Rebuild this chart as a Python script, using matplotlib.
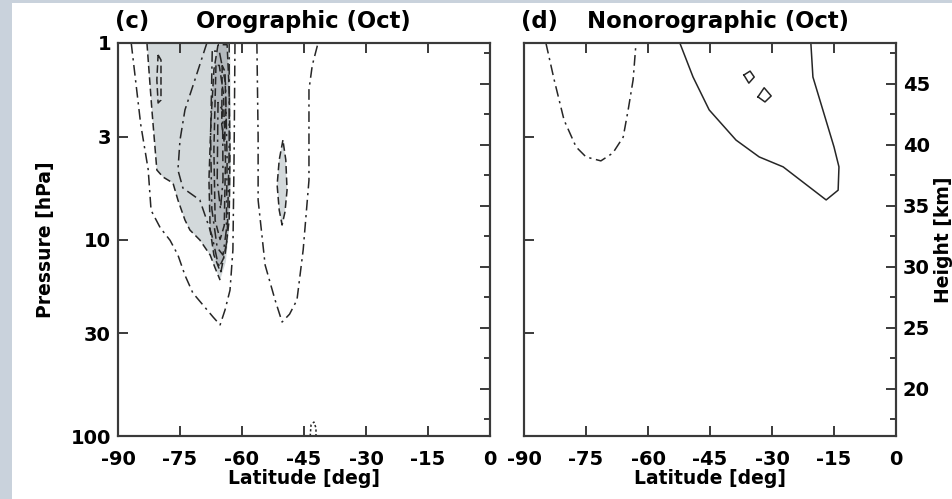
"""Orographic / nonorographic GW drag cross sections (Oct), panels (c) and (d)."""
import numpy as np
import matplotlib
matplotlib.use('Agg')
import matplotlib.pyplot as plt
from matplotlib.patches import Rectangle
from matplotlib.ticker import FixedLocator, NullLocator, FixedFormatter

plt.rcParams['font.family'] = ['DejaVu Sans']
plt.rcParams['font.weight'] = 'bold'
plt.rcParams['axes.unicode_minus'] = False

# axes
lat_ticks = [-90, -75, -60, -45, -30, -15, 0]
lat_labels = ['-90', '-75', '-60', '-45', '-30', '-15', '0']
p_ticks = [1, 3, 10, 30, 100]
p_labels = ['1', '3', '10', '30', '100']
km_ticks = [20, 25, 30, 35, 40, 45]
km_minor = [17.5, 22.5, 27.5, 32.5, 37.5, 42.5, 47.5]
scale_height = 7.0  # km, z = H ln(1000/p)

# ---- panel (c) orographic: contour lines (lat, hPa)
oro_outer_lat = [-86.8, -84.5, -82.7, -82.0, -79.8, -77.4, -75.5, -73.8, -71.9, -67.0, -65.3,
                 -64.1, -62.9, -62.2, -61.9, -61.7]
oro_outer_p = [1.0, 2.6, 4.4, 7.1, 8.7, 10.1, 12.0, 15.2, 18.7, 24.8, 27.2,
               22.8, 18.1, 11.3, 3.5, 1.0]

oro_shade_lat = [-83.0, -81.8, -80.6, -79.1, -76.7, -75.5, -73.8, -72.6, -70.2, -67.7, -66.5,
                 -65.3, -63.9, -63.1, -62.7, -62.7, -62.9]
oro_shade_p = [1.0, 2.19, 4.43, 4.81, 5.16, 6.3, 7.96, 8.95, 10.06, 12.0, 13.97,
               16.1, 13.0, 8.95, 4.98, 1.95, 1.0]

oro_inner_lat = [-68.5, -71.4, -73.8, -75.0, -75.5, -74.3, -70.2, -67.3, -66.0, -65.1, -63.6, -63.1, -63.1]
oro_inner_p = [1.0, 1.54, 2.19, 3.12, 4.43, 5.47, 6.3, 9.49, 12.7, 14.6, 10.06, 3.5, 1.0]

oro_small_lat = [-80.3, -79.6, -79.6, -80.3, -80.6, -80.3]
oro_small_p = [1.15, 1.22, 1.95, 2.02, 1.54, 1.15]

oro_core_lat = [-65.8, -66.8, -67.5, -68.0, -67.7, -66.8, -65.6, -64.1, -63.1, -62.9, -63.1, -63.6, -65.8]
oro_core_p = [1.02, 1.37, 2.47, 4.98, 8.95, 12.0, 13.97, 12.0, 7.96, 3.5, 1.73, 1.02, 1.02]

oro_core1_lat = [-67.2, -67.6, -67.3, -66.0, -64.6, -63.8, -63.6, -64.0, -65.5, -67.2]
oro_core1_p = [1.1, 3.0, 7.0, 11.0, 12.0, 9.0, 4.0, 1.6, 1.1, 1.1]
oro_core2_lat = [-66.3, -66.8, -66.5, -65.3, -64.3, -64.0, -64.5, -65.5, -66.3]
oro_core2_p = [1.3, 3.5, 8.0, 10.0, 8.5, 4.0, 1.8, 1.3, 1.3]
oro_core3_lat = [-65.8, -66.0, -65.2, -64.6, -64.7, -65.8]
oro_core3_p = [2.0, 5.0, 7.0, 5.0, 2.2, 2.0]
oro_core4_lat = [-64.8, -64.9, -64.3, -63.9, -64.1, -64.8]
oro_core4_p = [1.3, 2.6, 3.2, 2.4, 1.4, 1.3]

oro_mid_lat = [-56.4, -56.1, -56.1, -54.4, -52.0, -50.3, -48.5, -46.7, -45.2, -43.8, -43.8, -43.0, -41.6]
oro_mid_p = [1.0, 3.0, 6.3, 13.5, 20.3, 26.3, 24.0, 20.3, 11.3, 5.0, 1.73, 1.3, 1.0]

oro_blob_lat = [-50.1, -51.0, -51.5, -51.0, -50.3, -49.6, -49.1, -49.4, -50.1]
oro_blob_p = [3.12, 3.94, 5.28, 7.08, 8.44, 7.24, 5.6, 3.94, 3.12]

oro_tiny_lat = [-43.5, -43.3, -42.6, -42.1, -42.1]
oro_tiny_p = [100.0, 87.9, 84.9, 91.1, 100.0]

# ---- panel (d) nonorographic
non_u_lat = [-84.7, -82.7, -80.3, -77.4, -75.0, -71.4, -68.5, -66.0, -64.8, -63.6, -62.9]
non_u_p = [1.0, 1.54, 2.47, 3.38, 3.80, 3.98, 3.63, 3.01, 2.19, 1.54, 1.0]

non_solid_lat = [-52.3, -49.1, -45.2, -38.7, -33.1, -27.3, -16.9, -14.0, -13.8, -15.0, -17.7, -20.1, -20.6]
non_solid_p = [1.0, 1.49, 2.19, 3.12, 3.80, 4.27, 6.29, 5.61, 4.27, 3.38, 2.19, 1.49, 1.0]

non_dia1_lat = [-36.8, -35.3, -34.3, -35.6, -36.8]
non_dia1_p = [1.455, 1.39, 1.49, 1.60, 1.455]
non_dia2_lat = [-33.4, -31.9, -30.2, -31.7, -33.4]
non_dia2_p = [1.88, 1.69, 1.86, 1.995, 1.88]

DASHDOT = (0, (7, 3, 1.5, 3))
DASH = (0, (5, 2.5))
DOT = (0, (1.5, 1.5))
LINE_C = '#262626'
LIGHT = '#d3d9db'
DARK = '#b4b9bd'
SPINE_C = '#3a3a3a'
TICK_FS = 14
LABEL_FS = 13.5
TITLE_FS = 16.4


def style_axes(ax, show_plabels):
    ax.set_yscale('log')
    ax.set_xlim(-90, 0)
    ax.set_ylim(100, 1)
    ax.xaxis.set_major_locator(FixedLocator(lat_ticks))
    ax.xaxis.set_major_formatter(FixedFormatter(lat_labels))
    ax.yaxis.set_major_locator(FixedLocator(p_ticks))
    ax.yaxis.set_minor_locator(NullLocator())
    ax.yaxis.set_major_formatter(FixedFormatter(p_labels if show_plabels else [''] * 5))
    ax.tick_params(axis='x', direction='in', top=True, length=7, width=1.4,
                   color=SPINE_C, labelsize=TICK_FS, pad=10)
    ax.tick_params(axis='y', direction='in', right=False, length=7, width=1.4,
                   color=SPINE_C, labelsize=TICK_FS, pad=5)
    for s in ax.spines.values():
        s.set_linewidth(1.5)
        s.set_color(SPINE_C)
    ax.set_xlabel('Latitude [deg]', fontsize=LABEL_FS, fontweight='bold')
    ax.xaxis.set_label_coords(0.5, -0.085)

    twin = ax.twinx()
    twin.set_ylim(scale_height * np.log(1000 / 100), scale_height * np.log(1000 / 1))
    twin.yaxis.set_major_locator(FixedLocator(km_ticks))
    twin.yaxis.set_minor_locator(FixedLocator(km_minor))
    twin.tick_params(axis='y', which='major', direction='in', length=7, width=1.4,
                     color=SPINE_C, labelsize=TICK_FS, pad=5)
    twin.tick_params(axis='y', which='minor', direction='in', length=4, width=1.4, color=SPINE_C)
    for s in twin.spines.values():
        s.set_linewidth(1.5)
        s.set_color(SPINE_C)
    return twin


fig = plt.figure(figsize=(9.52, 4.99), dpi=100, facecolor='#c9d2dc')
fig.patches.append(Rectangle((12 / 952, 0), 1, 496 / 499, transform=fig.transFigure,
                             facecolor='white', edgecolor='none', zorder=-10))

ax1 = fig.add_axes([118 / 952, 63 / 499, 372 / 952, 393 / 499])
ax2 = fig.add_axes([524 / 952, 63 / 499, 372 / 952, 393 / 499])

# panel (c)
ax1.fill(oro_shade_lat, oro_shade_p, color=LIGHT, lw=0, zorder=1)
ax1.fill(oro_core_lat, oro_core_p, color=DARK, lw=0, zorder=1)
ax1.fill(oro_blob_lat, oro_blob_p, color=LIGHT, lw=0, zorder=1)
oro_lines = [
    (oro_outer_lat, oro_outer_p, DASHDOT),
    (oro_shade_lat[:12], oro_shade_p[:12], DASH),
    (oro_inner_lat, oro_inner_p, DASHDOT),
    (oro_small_lat, oro_small_p, DASH),
    (oro_core_lat, oro_core_p, DASH),
    (oro_core1_lat, oro_core1_p, DASHDOT),
    (oro_core2_lat, oro_core2_p, DASH),
    (oro_core3_lat, oro_core3_p, DASHDOT),
    (oro_core4_lat, oro_core4_p, DASH),
    (oro_mid_lat, oro_mid_p, DASHDOT),
    (oro_blob_lat, oro_blob_p, DASH),
    (oro_tiny_lat, oro_tiny_p, DOT),
]
for la, pp, ls in oro_lines:
    ax1.plot(la, pp, color=LINE_C, lw=1.1, linestyle=ls, zorder=2)

tw1 = style_axes(ax1, True)
tw1.yaxis.set_major_formatter(FixedFormatter([''] * 6))
ax1.set_ylabel('Pressure [hPa]', fontsize=LABEL_FS, fontweight='bold')
ax1.yaxis.set_label_coords(-0.169, 0.5)
ax1.text(-0.008, 1.055, '(c)', transform=ax1.transAxes, fontsize=TITLE_FS,
         fontweight='bold', ha='left', va='center')
ax1.text(0.497, 1.055, 'Orographic (Oct)', transform=ax1.transAxes, fontsize=TITLE_FS,
         fontweight='bold', ha='center', va='center')

# panel (d)
ax2.plot(non_u_lat, non_u_p, color=LINE_C, lw=1.1, linestyle=DASHDOT, zorder=2)
ax2.plot(non_solid_lat, non_solid_p, color=LINE_C, lw=1.1, zorder=2)
ax2.plot(non_dia1_lat, non_dia1_p, color=LINE_C, lw=1.1, zorder=2)
ax2.plot(non_dia2_lat, non_dia2_p, color=LINE_C, lw=1.1, zorder=2)

tw2 = style_axes(ax2, False)
tw2.set_ylabel('Height [km]', fontsize=LABEL_FS, fontweight='bold')
tw2.yaxis.set_label_coords(1.102, 0.5)
ax2.text(-0.008, 1.055, '(d)', transform=ax2.transAxes, fontsize=TITLE_FS,
         fontweight='bold', ha='left', va='center')
ax2.text(0.521, 1.055, 'Nonorographic (Oct)', transform=ax2.transAxes, fontsize=TITLE_FS,
         fontweight='bold', ha='center', va='center')

fig.savefig('out.png', dpi=100, facecolor=fig.get_facecolor())
